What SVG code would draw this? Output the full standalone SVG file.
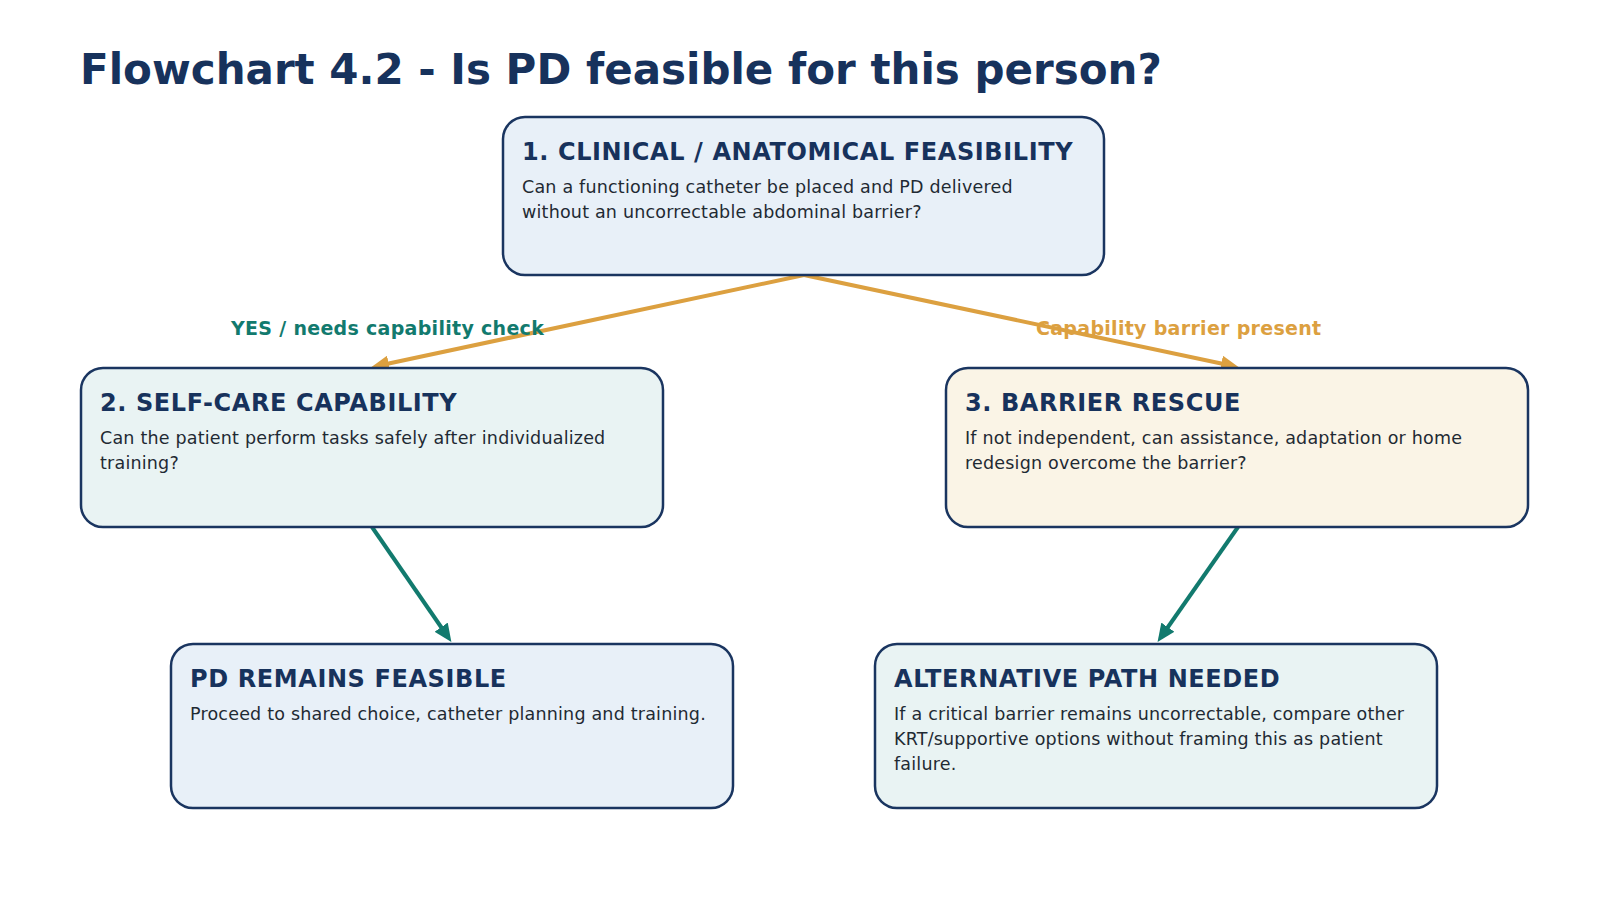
<svg xmlns="http://www.w3.org/2000/svg" width="1600" height="900" viewBox="0 0 1600 900">
<style>
text{font-family:"DejaVu Sans",sans-serif}
.box{stroke:#1a3560;stroke-width:2.5}
.h{font-weight:bold;font-size:24px;fill:#17325c;letter-spacing:0.6px}
.b{font-size:17.5px;fill:#1f2a33;letter-spacing:0.2px}
.o{stroke:#dca040;stroke-width:4;fill:none}
.t{stroke:#127a6e;stroke-width:4;fill:none}
</style>
<defs>
<marker id="ao" markerWidth="4.5" markerHeight="4" refX="3" refY="2" orient="auto"><path d="M0,0L4.5,2L0,4z" fill="#dca040"/></marker>
<marker id="at" markerWidth="4.5" markerHeight="4" refX="3" refY="2" orient="auto"><path d="M0,0L4.5,2L0,4z" fill="#127a6e"/></marker>
</defs>
<rect width="1600" height="900" fill="#fff"/>
<text x="80" y="84" font-size="42" font-weight="bold" fill="#17325c">Flowchart 4.2 - Is PD feasible for this person?</text>
<g id="connectors">
<line class="o" x1="804" y1="275" x2="377" y2="366" marker-end="url(#ao)"/>
<line class="o" x1="804" y1="275" x2="1233" y2="366" marker-end="url(#ao)"/>
<line class="t" x1="372" y1="527" x2="448" y2="637" marker-end="url(#at)"/>
<line class="t" x1="1238" y1="527" x2="1161" y2="637" marker-end="url(#at)"/>
<text x="231" y="335" font-size="19" font-weight="bold" fill="#127a6e" letter-spacing="0.3">YES / needs capability check</text>
<text x="1036" y="335" font-size="19" font-weight="bold" fill="#dca040" letter-spacing="0.3">Capability barrier present</text>
</g>
<g id="n1"><rect class="box" x="503" y="117" width="601" height="158" rx="22" fill="#e8f0f8"/>
<text class="h" x="522" y="160">1. CLINICAL / ANATOMICAL FEASIBILITY</text>
<text class="b" x="522" y="193">Can a functioning catheter be placed and PD delivered</text>
<text class="b" x="522" y="218">without an uncorrectable abdominal barrier?</text></g>
<g id="n2"><rect class="box" x="81" y="368" width="582" height="159" rx="22" fill="#e9f3f3"/>
<text class="h" x="100" y="411">2. SELF-CARE CAPABILITY</text>
<text class="b" x="100" y="444">Can the patient perform tasks safely after individualized</text>
<text class="b" x="100" y="469">training?</text></g>
<g id="n3"><rect class="box" x="946" y="368" width="582" height="159" rx="22" fill="#faf4e6"/>
<text class="h" x="965" y="411">3. BARRIER RESCUE</text>
<text class="b" x="965" y="444">If not independent, can assistance, adaptation or home</text>
<text class="b" x="965" y="469">redesign overcome the barrier?</text></g>
<g id="n4"><rect class="box" x="171" y="644" width="562" height="164" rx="22" fill="#e8f0f8"/>
<text class="h" x="190" y="687">PD REMAINS FEASIBLE</text>
<text class="b" x="190" y="720">Proceed to shared choice, catheter planning and training.</text></g>
<g id="n5"><rect class="box" x="875" y="644" width="562" height="164" rx="22" fill="#e9f3f3"/>
<text class="h" x="894" y="687">ALTERNATIVE PATH NEEDED</text>
<text class="b" x="894" y="720">If a critical barrier remains uncorrectable, compare other</text>
<text class="b" x="894" y="745">KRT/supportive options without framing this as patient</text>
<text class="b" x="894" y="770">failure.</text></g>
</svg>
